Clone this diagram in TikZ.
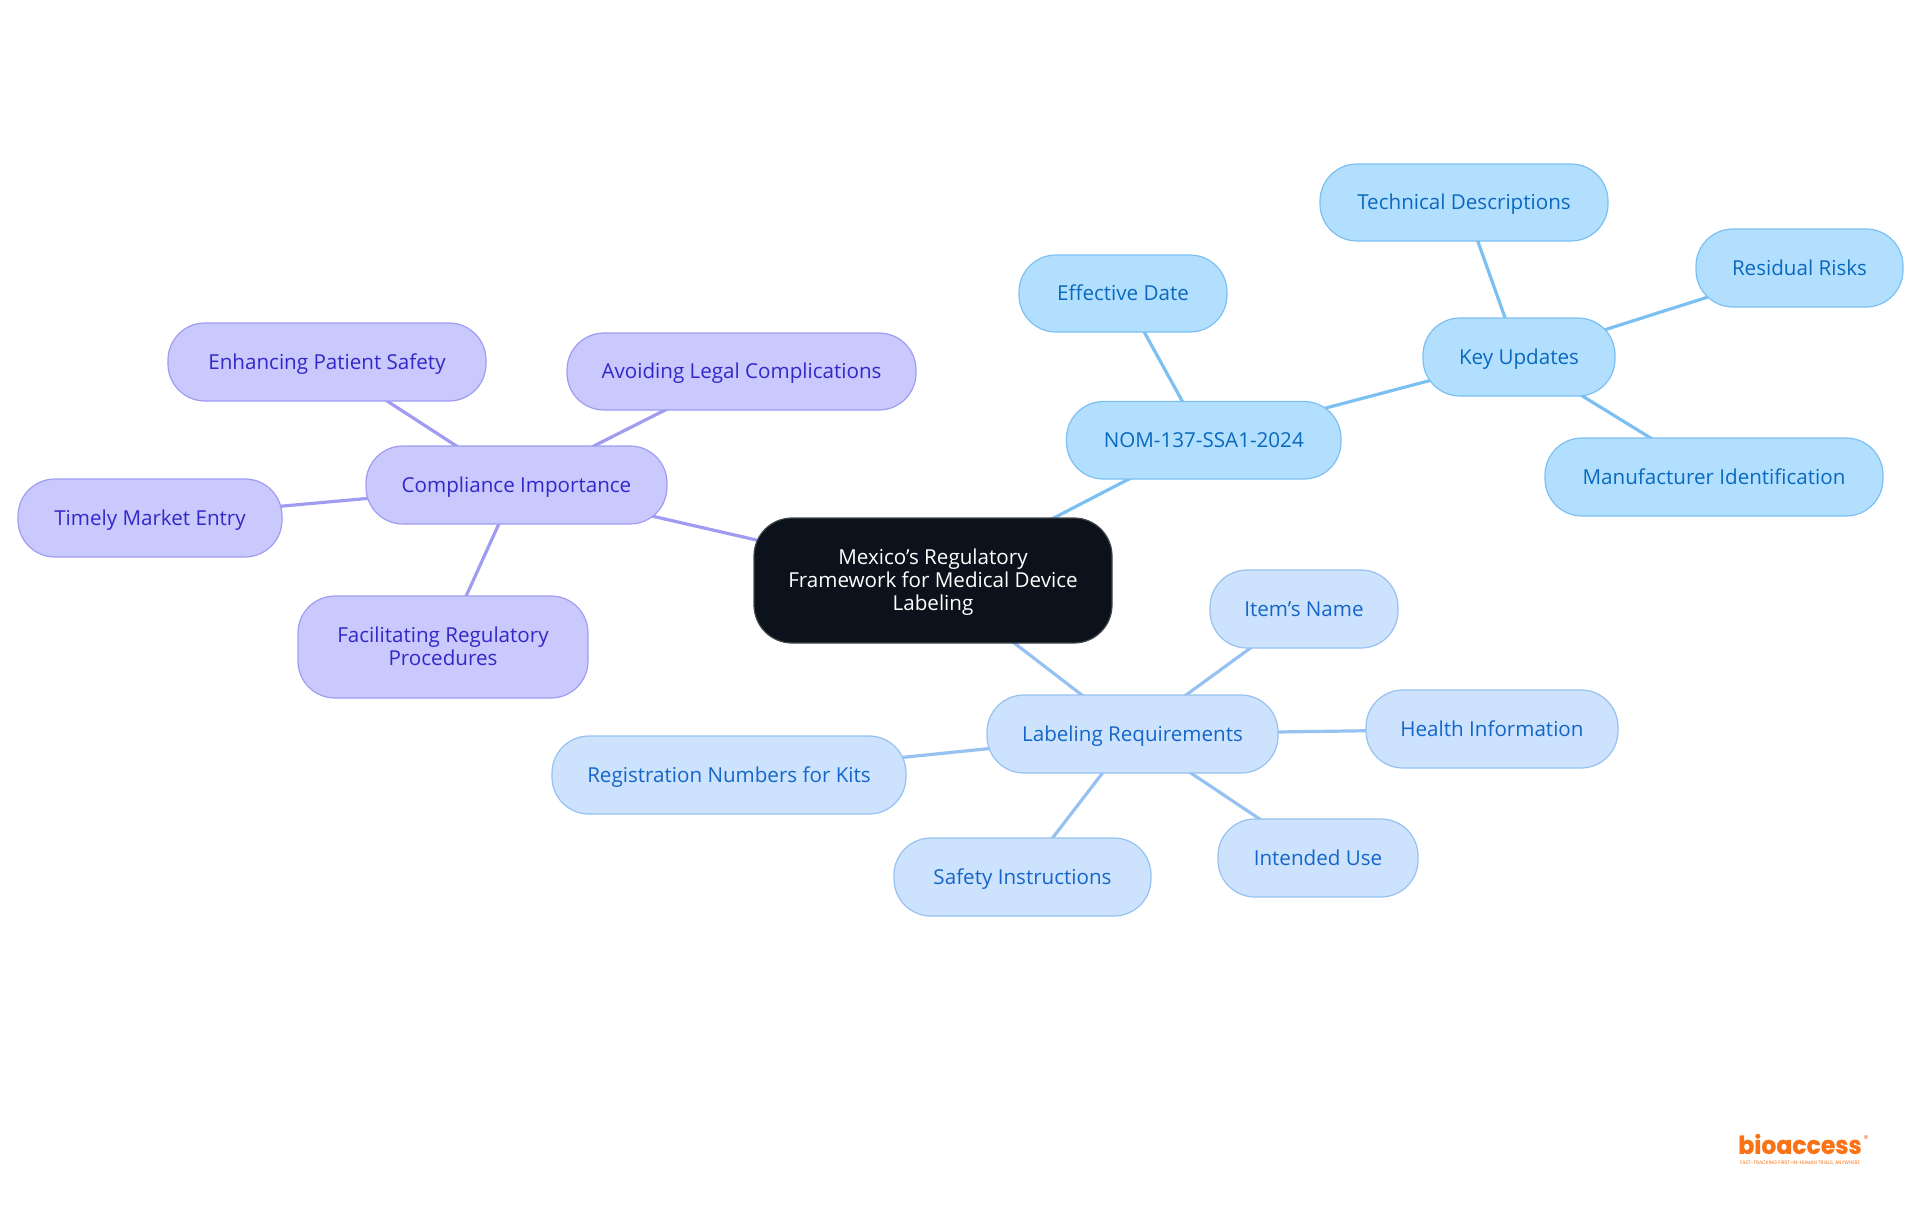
\documentclass[tikz,border=0pt]{standalone}
\usepackage{fontspec}
\setmainfont{Open Sans}[Scale=1.0]
\newfontfamily\logofont{Poppins}[FakeStretch=0.95,BoldFeatures={FakeBold=1}]
\usetikzlibrary{backgrounds}
\definecolor{rootfill}{HTML}{0B121B}\definecolor{rootline}{HTML}{43474D}
\definecolor{bluefill}{HTML}{B3DFFF}\definecolor{blueline}{HTML}{7CC0F2}\definecolor{bluetext}{HTML}{0A69BE}
\definecolor{palefill}{HTML}{CCE2FD}\definecolor{paleline}{HTML}{97C1F1}\definecolor{paletext}{HTML}{1566C8}
\definecolor{purpfill}{HTML}{C9C9FD}\definecolor{purpline}{HTML}{A09CF2}\definecolor{purptext}{HTML}{3427C8}
\definecolor{logoorange}{HTML}{F97316}
\newcommand{\lineprop}{\rule[-2.6pt]{0pt}{12.6pt}}
\tikzset{
  mm/.style={draw,line width=0.6pt,rounded corners=18.5pt,inner sep=0pt,outer sep=0pt,align=center,font=\fontsize{10.3}{11.5}\selectfont},
  rootnode/.style={mm,fill=rootfill,draw=rootline,text=white,rounded corners=19pt},
  bluenode/.style={mm,fill=bluefill,draw=blueline,text=bluetext},
  palenode/.style={mm,fill=palefill,draw=paleline,text=paletext},
  purpnode/.style={mm,fill=purpfill,draw=purpline,text=purptext},
  bluelink/.style={draw=blueline,line width=1.6pt},
  palelink/.style={draw=paleline,line width=1.6pt},
  purplink/.style={draw=purpline,line width=1.6pt},
  logotext/.style={text=logoorange,inner sep=0pt,outer sep=0pt}
}
% name, x0, x1, y0, y1, style, text (px in the 1920x1215 frame)
\newcommand{\mmnode}[7]{%
  \pgfmathsetmacro{\mmcx}{(#2+#3)/2}\pgfmathsetmacro{\mmcy}{(#4+#5)/2}%
  \pgfmathsetmacro{\mmw}{(#3-#2)/2}\pgfmathsetmacro{\mmh}{(#5-#4)/2}%
  \node[#6,minimum width=\mmw pt,minimum height=\mmh pt] (#1) at (\mmcx,\mmcy) {#7};}
\begin{document}
\begin{tikzpicture}[x=0.5pt,y=-0.5pt]
\useasboundingbox (0,0) rectangle (1920,1215);
\mmnode{root}{754}{1112}{518}{643}{rootnode}{\rule{0pt}{9pt}Mexico's Regulatory\\Framework for Medical Device\\Labeling}
\mmnode{nom}{1066.5}{1341}{401.5}{479}{bluenode}{\lineprop NOM-137-SSA1-2024}
\mmnode{key}{1423}{1615}{318}{396}{bluenode}{\lineprop Key Updates}
\mmnode{tech}{1320}{1608}{164}{241}{bluenode}{\lineprop Technical Descriptions}
\mmnode{resid}{1696}{1903}{229}{307}{bluenode}{\lineprop Residual Risks}
\mmnode{manu}{1545}{1883}{438}{516}{bluenode}{\lineprop Manufacturer Identification}
\mmnode{eff}{1019}{1227}{255}{332}{bluenode}{\lineprop Effective Date}
\mmnode{comp}{366}{667}{446}{524}{purpnode}{\lineprop Compliance Importance}
\mmnode{avoid}{567}{916}{333}{410}{purpnode}{\lineprop Avoiding Legal Complications}
\mmnode{enh}{168}{486}{323}{401}{purpnode}{\lineprop Enhancing Patient Safety}
\mmnode{time}{18}{282}{479}{557}{purpnode}{\lineprop Timely Market Entry}
\mmnode{facil}{298}{588}{596}{698}{purpnode}{Facilitating Regulatory\\\rule[-1.2pt]{0pt}{1pt}Procedures}
\mmnode{label}{987}{1278}{695}{773}{palenode}{\lineprop Labeling Requirements}
\mmnode{item}{1210}{1398}{570}{648}{palenode}{\lineprop Item's Name}
\mmnode{health}{1366}{1618}{690}{768}{palenode}{\lineprop Health Information}
\mmnode{intend}{1218}{1418}{819}{897}{palenode}{\lineprop Intended Use}
\mmnode{safety}{894}{1151}{838}{916}{palenode}{\lineprop Safety Instructions}
\mmnode{reg}{552}{906}{736}{814}{palenode}{\lineprop Registration Numbers for Kits}
\begin{scope}[on background layer]
\draw[bluelink] (root.center) -- (nom.center);
\draw[bluelink] (nom.center) -- (key.center);
\draw[bluelink] (nom.center) -- (eff.center);
\draw[bluelink] (key.center) -- (tech.center);
\draw[bluelink] (key.center) -- (resid.center);
\draw[bluelink] (key.center) -- (manu.center);
\draw[purplink] (root.center) -- (comp.center);
\draw[purplink] (comp.center) -- (avoid.center);
\draw[purplink] (comp.center) -- (enh.center);
\draw[purplink] (comp.center) -- (time.center);
\draw[purplink] (comp.center) -- (facil.center);
\draw[palelink] (root.center) -- (label.center);
\draw[palelink] (label.center) -- (item.center);
\draw[palelink] (label.center) -- (health.center);
\draw[palelink] (label.center) -- (intend.center);
\draw[palelink] (label.center) -- (safety.center);
\draw[palelink] (label.center) -- (reg.center);
\end{scope}
\node[logotext,font=\logofont\bfseries\fontsize{12.4}{13}\selectfont,anchor=center] (logo) at (1800,1144) {bioaccess};
\node[logotext,font=\logofont\fontsize{2.5}{3}\selectfont,anchor=center] (logotag) at (1800,1163) {FAST-TRACKING FIRST-IN-HUMAN TRIALS, ANYWHERE};
\node[logotext,font=\logofont\fontsize{5}{5}\selectfont,anchor=center] (logomark) at (1866,1139) {®};
\end{tikzpicture}
\end{document}
